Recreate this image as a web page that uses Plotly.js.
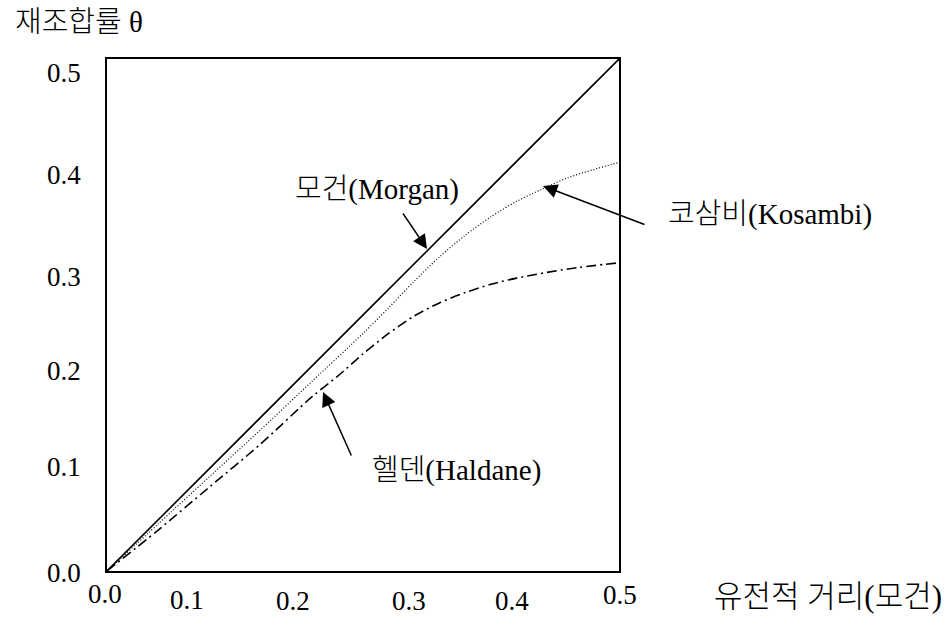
<!DOCTYPE html>
<html>
<head>
<meta charset="utf-8">
<script src="https://cdn.plot.ly/plotly-3.0.1.min.js"></script>
<style>html,body{margin:0;padding:0;background:#fff;}#chart{width:950px;height:617px;}</style>
</head>
<body>
<div id="chart"></div>
<script>
// ---- data ----
const morganD = [0, 0.5];
const morganTheta = [0, 0.5];

const kosambiD = [0, 0.05, 0.1, 0.15, 0.2, 0.25, 0.275, 0.3, 0.325, 0.35, 0.375, 0.4, 0.425, 0.45, 0.475, 0.5];
const kosambiTheta = [0, 0.046, 0.092, 0.138, 0.185, 0.232, 0.257, 0.283, 0.307, 0.328, 0.346, 0.361, 0.373, 0.384, 0.392, 0.399];

const haldaneD = [0, 0.05, 0.1, 0.15, 0.2, 0.225, 0.25, 0.275, 0.3, 0.325, 0.35, 0.375, 0.4, 0.45, 0.5];
const haldaneTheta = [0, 0.04, 0.082, 0.124, 0.17, 0.19, 0.212, 0.232, 0.249, 0.262, 0.272, 0.28, 0.286, 0.295, 0.301];

const xTickLabels = ['0.0', '0.1', '0.2', '0.3', '0.4', '0.5'];
const yTickLabels = ['0.0', '0.1', '0.2', '0.3', '0.4', '0.5'];

const yTitle = '재조합률 θ';
const xTitle = '유전적 거리(모건)';
const morganLabel = '모건(Morgan)';
const kosambiLabel = '코삼비(Kosambi)';
const haldaneLabel = '헬덴(Haldane)';

// ---- layout helpers (positions in page pixels, converted to paper coords) ----
const L = 107, T = 59, W = 512, H = 512;
const px = x => (x - L) / W;
const py = y => (T + H - y) / H;
const FONT = 'Liberation Serif, "Times New Roman", "Noto Sans CJK KR Light", "Noto Sans CJK KR DemiLight", "Noto Sans CJK KR", serif';

const xTickPos = [[105, 594], [187, 600], [293, 601], [409, 601], [512, 601], [620, 595]];
const yTickPos = [[64, 573], [64, 467], [64, 371], [64, 277], [64, 175], [64, 73]];

const annotations = [];
xTickLabels.forEach((t, i) => annotations.push({
  xref: 'paper', yref: 'paper', x: px(xTickPos[i][0]), y: py(xTickPos[i][1]),
  text: t, showarrow: false, xanchor: 'center', yanchor: 'middle', borderpad: 0,
  font: {family: FONT, size: 27, color: '#000'}
}));
yTickLabels.forEach((t, i) => annotations.push({
  xref: 'paper', yref: 'paper', x: px(yTickPos[i][0]), y: py(yTickPos[i][1]),
  text: t, showarrow: false, xanchor: 'center', yanchor: 'middle', borderpad: 0,
  font: {family: FONT, size: 27, color: '#000'}
}));

const hangulFont = size => ({family: FONT, size: size, color: '#000', weight: 300});

// titles
annotations.push({xref: 'paper', yref: 'paper', x: px(79), y: py(22), text: yTitle,
  showarrow: false, xanchor: 'center', yanchor: 'middle', font: hangulFont(29)});
annotations.push({xref: 'paper', yref: 'paper', x: px(828), y: py(596), text: xTitle,
  showarrow: false, xanchor: 'center', yanchor: 'middle', borderpad: 0, font: hangulFont(31)});

// curve labels
annotations.push({xref: 'paper', yref: 'paper', x: px(377), y: py(189), text: morganLabel,
  showarrow: false, xanchor: 'center', yanchor: 'middle', font: hangulFont(29)});
annotations.push({xref: 'paper', yref: 'paper', x: px(770), y: py(214), text: kosambiLabel,
  showarrow: false, xanchor: 'center', yanchor: 'middle', font: hangulFont(29)});
annotations.push({xref: 'paper', yref: 'paper', x: px(456), y: py(470), text: haldaneLabel,
  showarrow: false, xanchor: 'center', yanchor: 'middle', font: hangulFont(29)});

// arrows (head at a point on the curve, tail near the label), page pixels
const arrows = [
  {head: [427, 249], tail: [402, 212]},
  {head: [543, 186], tail: [646, 225]},
  {head: [323, 392], tail: [352, 457]}
];
arrows.forEach(a => annotations.push({
  xref: 'paper', yref: 'paper', axref: 'pixel', ayref: 'pixel',
  x: px(a.head[0]), y: py(a.head[1]),
  ax: a.tail[0] - a.head[0], ay: a.tail[1] - a.head[1],
  text: '', showarrow: true, arrowhead: 2, arrowsize: 1.9, arrowwidth: 1.5,
  arrowcolor: '#000', standoff: 0, startstandoff: 0
}));

const traces = [
  {x: morganD, y: morganTheta, mode: 'lines', line: {color: '#000', width: 1.6}, hoverinfo: 'skip'},
  {x: kosambiD, y: kosambiTheta, mode: 'lines', line: {color: '#000', width: 1.2, dash: '1px,2px', shape: 'spline', smoothing: 0.8}, hoverinfo: 'skip'},
  {x: haldaneD, y: haldaneTheta, mode: 'lines', line: {color: '#000', width: 1.6, dash: '10px,4px,2px,4px', shape: 'spline', smoothing: 0.8}, hoverinfo: 'skip'}
];

const axisCommon = {
  range: [0, 0.5], showgrid: false, zeroline: false, showline: true, mirror: true,
  linecolor: '#000', linewidth: 1.6, ticks: '', showticklabels: false, fixedrange: true
};

const layout = {
  width: 950, height: 617,
  margin: {l: L, r: 950 - L - W, t: T, b: 617 - T - H, pad: 0},
  paper_bgcolor: '#fff', plot_bgcolor: '#fff',
  showlegend: false,
  xaxis: Object.assign({}, axisCommon),
  yaxis: Object.assign({}, axisCommon),
  annotations: annotations
};

Plotly.newPlot('chart', traces, layout, {displayModeBar: false, staticPlot: true});
</script>
</body>
</html>
